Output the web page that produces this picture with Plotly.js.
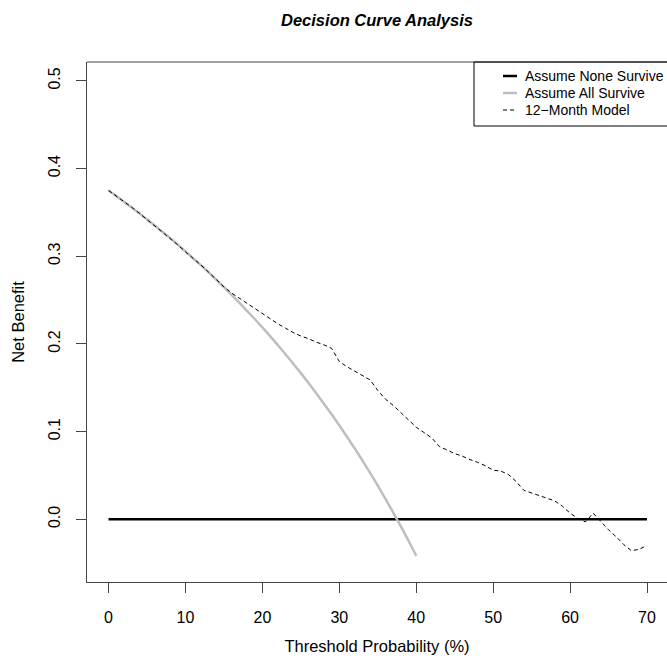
<!DOCTYPE html>
<html>
<head>
<meta charset="utf-8">
<script src="https://cdn.plot.ly/plotly-3.0.1.min.js"></script>
<style>html,body{margin:0;padding:0;background:#fff;}#chart{width:667px;height:663px;}</style>
</head>
<body>
<div id="chart"></div>
<script>
// Threshold probabilities (%)
const thresholdsAll = [0,1,2,3,4,5,6,7,8,9,10,11,12,13,14,15,16,17,18,19,20,21,22,23,24,25,26,27,28,29,30,31,32,33,34,35,36,37,38,39,40];
const netBenefitAll = [0.375,0.3687,0.3622,0.3557,0.349,0.3421,0.3351,0.328,0.3207,0.3132,0.3056,0.2977,0.2898,0.2816,0.2733,0.2647,0.256,0.247,0.2378,0.2284,0.2188,0.2089,0.1987,0.1883,0.1776,0.1667,0.1554,0.1438,0.1319,0.1197,0.1071,0.0942,0.0809,0.0672,0.053,0.0385,0.0234,0.0079,-0.0081,-0.0245,-0.0417];

const thresholdsNone = [0, 70];
const netBenefitNone = [0, 0];

const thresholdsModel = [0,1,2,3,4,5,6,7,8,9,10,11,12,13,14,15,16,17,18,19,20,21,22,23,24,25,26,27,28,29,30,31,32,33,34,35,36,37,38,39,40,41,42,43,44,45,46,47,48,49,50,51,52,53,54,55,56,57,58,59,60,61,62,63,64,65,66,67,68,69,70];
const netBenefitModel = [0.375,0.369,0.362,0.356,0.349,0.342,0.335,0.328,0.321,0.313,0.305,0.298,0.290,0.282,0.273,0.265,0.258,0.252,0.246,0.240,0.235,0.229,0.223,0.218,0.213,0.209,0.206,0.202,0.199,0.195,0.180,0.174,0.169,0.164,0.159,0.147,0.137,0.130,0.122,0.113,0.105,0.099,0.093,0.083,0.079,0.075,0.072,0.068,0.065,0.061,0.056,0.055,0.051,0.043,0.033,0.030,0.027,0.024,0.021,0.015,0.007,0.001,-0.003,0.007,-0.003,-0.012,-0.020,-0.029,-0.036,-0.034,-0.030];

const xTicks = [0,10,20,30,40,50,60,70];
const yTicks = [0.0,0.1,0.2,0.3,0.4,0.5];
const yTickText = ["0.0","0.1","0.2","0.3","0.4","0.5"];

const seriesNames = ["Assume None Survive","Assume All Survive","12\u2212Month Model"];

const FONT = "Liberation Sans, Arial, Helvetica, sans-serif";

const lineStyles = [
  {color: "#000000", width: 2.5},
  {color: "#BEBEBE", width: 2.5},
  {color: "#000000", width: 1, dash: "4px,3px"}
];

const traces = [
  {x: thresholdsNone, y: netBenefitNone, name: seriesNames[0], type: "scatter", mode: "lines", line: lineStyles[0]},
  {x: thresholdsAll, y: netBenefitAll, name: seriesNames[1], type: "scatter", mode: "lines", line: Object.assign({shape: "spline"}, lineStyles[1])},
  {x: thresholdsModel, y: netBenefitModel, name: seriesNames[2], type: "scatter", mode: "lines", line: lineStyles[2]}
];

// plot area in pixels: left 87, top 62, width 580, height 520
const PL = 87, PT = 62, PW = 580, PH = 520;
const px = v => (v - PL) / PW;
const py = v => (PT + PH - v) / PH;

const shapes = [
  {type: "line", xref: "paper", yref: "paper", x0: 0, x1: 1, y0: 1, y1: 1, line: {color: "#444", width: 1}},
  // legend box
  {type: "rect", xref: "paper", yref: "paper", x0: px(474), x1: px(700), y0: py(126), y1: py(62),
   line: {color: "#000", width: 1}, fillcolor: "rgba(255,255,255,0)"}
];
const annotations = [];
const rowsY = [76, 93, 110];
seriesNames.forEach((nm, i) => {
  shapes.push({type: "line", xref: "paper", yref: "paper", x0: px(503), x1: px(517), y0: py(rowsY[i]), y1: py(rowsY[i]),
               line: Object.assign({}, lineStyles[i])});
  annotations.push({text: nm, xref: "paper", yref: "paper", x: px(523), y: py(rowsY[i]), xanchor: "left", yanchor: "middle",
                    showarrow: false, font: {family: FONT, size: 14, color: "#000"}});
});

const layout = {
  width: 667, height: 663,
  margin: {l: 87, r: 0, t: 62, b: 81, pad: 0},
  paper_bgcolor: "#ffffff", plot_bgcolor: "#ffffff",
  font: {family: FONT, color: "#000000", size: 16},
  title: {text: "Decision Curve Analysis", x: 0.5, xref: "paper", xanchor: "center",
          y: 1 - 20/663, yref: "container", yanchor: "middle",
          font: {family: FONT, size: 16.5, weight: "bold", style: "italic", color: "#000"}},
  showlegend: false,
  xaxis: {range: [-2.8, 72.6], tickvals: xTicks, ticktext: xTicks.map(String),
          showgrid: false, zeroline: false, showline: true, linecolor: "#444", linewidth: 1,
          ticks: "outside", ticklen: 10, tickcolor: "#444", tickfont: {size: 16}, ticklabelstandoff: 11,
          title: {text: "Threshold Probability (%)", font: {size: 16.5}, standoff: 15}},
  yaxis: {range: [-0.0715, 0.5215], tickvals: yTicks, ticktext: yTickText, tickangle: -90,
          showgrid: false, zeroline: false, showline: true, linecolor: "#444", linewidth: 1,
          ticks: "outside", ticklen: 10, tickcolor: "#444", tickfont: {size: 16}, ticklabelstandoff: 10,
          title: {text: "Net Benefit", font: {size: 16.5}, standoff: 16}},
  shapes: shapes,
  annotations: annotations
};

Plotly.newPlot("chart", traces, layout, {displayModeBar: false, staticPlot: true});
</script>
</body>
</html>
